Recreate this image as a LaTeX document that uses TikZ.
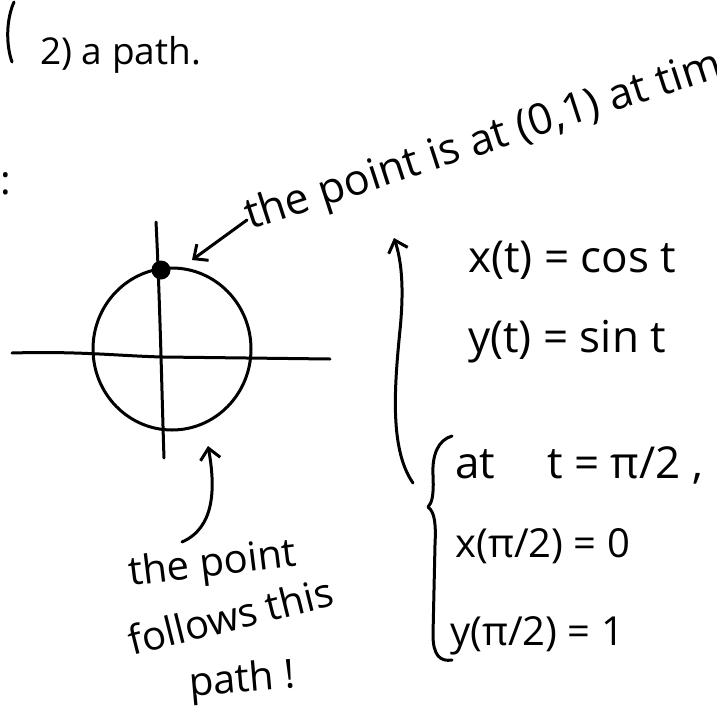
\documentclass[tikz,border=0pt]{standalone}
\usepackage{fontspec}
\setmainfont{Open Sans}
\usetikzlibrary{arrows.meta}
\begin{document}
\begin{tikzpicture}[x=1pt,y=-1pt,
  ink/.style={line width=3pt,line cap=round,line join=round},
  hand/.style={inner sep=0pt,anchor=base west,font=\fontsize{40}{46}\selectfont},
  bigh/.style={inner sep=0pt,anchor=base west,font=\fontsize{44}{50}\selectfont},
  arr/.style={ink,-{Straight Barb[length=11pt,width=20pt,line width=3pt]}}]
\useasboundingbox (0,0) rectangle (717,726);
% top line
\draw[ink] (14,2) .. controls (6,20) and (6,45) .. (12,62);
\node[hand,font=\fontsize{37}{42}\selectfont] (title) at (40,64) {2) a path.};
\node[hand] (colon) at (0,194) {:};
% axes and circle
\draw[ink] (12,353) .. controls (80,351) and (120,356) .. (163,357) -- (330,359);
\draw[ink] (156,222) .. controls (160,300) and (162,400) .. (164,458);
\draw[ink] (172,349) circle[x radius=79,y radius=81];
\node[circle,fill,inner sep=0pt,minimum size=19pt] (dot) at (161,270) {};
% rotated label
\node[hand,rotate=18,font=\fontsize{43}{48}\selectfont] (pointat) at (250,230) {the point is at (0,1) at tim};
\coordinate (a1s) at (247,220);
\coordinate (a1e) at (192,260);
\draw[arr] (a1s) -- (a1e);
% equations
\node[bigh] (xt) at (468,272) {x(t) = cos t};
\node[bigh] (yt) at (468,352) {y(t) = sin t};
\coordinate (a2s) at (413,483);
\coordinate (a2m) at (400,330);
\coordinate (a2e) at (394,238);
\draw[arr] (a2s) .. controls (390,450) and (394,390) .. (a2m) .. controls (404,290) and (402,262) .. (a2e);
% brace
\coordinate (bt) at (452,436);
\coordinate (bb) at (452,660);
\draw[ink] (bt) .. controls (438,440) and (432,455) .. (433,475)
  .. controls (434,495) and (432,503) .. (428,507)
  .. controls (435,512) and (436,525) .. (435,545)
  -- (433,635) .. controls (433,655) and (440,662) .. (bb);
\node[bigh] (att) at (455,478) {at\hspace{52pt}t = π/2 ,};
\node[hand] (xpi) at (455,557) {x(π/2) = 0};
\node[hand] (ypi) at (450,645) {y(π/2) = 1};
% lower arrow and label
\coordinate (a3s) at (182,542);
\coordinate (a3e) at (208,446);
\draw[arr] (a3s) .. controls (214,528) and (216,490) .. (a3e);
\node[hand,rotate=7] (l1) at (130,586) {the point};
\node[hand,rotate=14] (l2) at (132,656) {follows this};
\node[hand,rotate=5] (l3) at (190,697) {path !};
\end{tikzpicture}
\end{document}
